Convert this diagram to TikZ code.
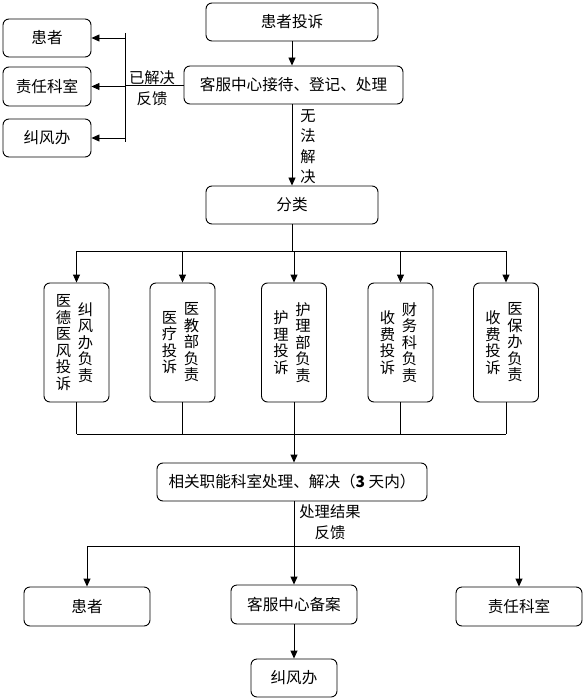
\documentclass[tikz,border=0pt]{standalone}
\usepackage{fontspec}
\newfontfamily\cjk{Noto Sans CJK SC}
\usetikzlibrary{arrows.meta}
\begin{document}
\begin{tikzpicture}[x=1pt,y=-1pt]
\tikzset{
  box/.style={draw, rounded corners=6pt, line width=0.9pt, inner sep=0pt, align=center,
    font=\cjk\fontsize{15.6}{17}\selectfont},
  vtx/.style={inner sep=0pt, align=center, font=\cjk\fontsize{15.3}{16.5}\selectfont},
  lbl/.style={inner sep=0pt, align=center, font=\cjk\fontsize{15.3}{21}\selectfont},
  arr/.style={-{Triangle[length=8pt,width=7pt]}, line width=0.9pt},
  ln/.style={line width=0.9pt}
}
\useasboundingbox (0,0) rectangle (584,700);
% top part
\node[box, minimum width=172pt, minimum height=38pt] (top) at (292,22) {患者投诉};
\node[box, minimum width=219pt, minimum height=38pt] (kf) at (293.5,85) {客服中心接待、登记、处理};
\node[box, minimum width=88pt, minimum height=38pt] (l1) at (47,38) {患者};
\node[box, minimum width=88pt, minimum height=39pt] (l2) at (47,86.5) {责任科室};
\node[box, minimum width=88pt, minimum height=38pt] (l3) at (47,138) {纠风办};
\node[box, minimum width=172pt, minimum height=38pt] (fl) at (292,205) {分类};
\coordinate (jt) at (125,33);
\coordinate (jb) at (125,142);
\draw[arr] (top.south) -- (top.south |- kf.north);
\draw[ln] (kf.west) -- (kf.west -| jt);
\draw[ln] (jt) -- (jb);
\draw[arr] (l1.east -| jt) -- (l1.east);
\draw[arr] (l2.east -| jt) -- (l2.east);
\draw[arr] (l3.east -| jt) -- (l3.east);
\node[lbl] (yjj) at (152,88) {已解决\\反馈};
\draw[arr] (kf.south -| top.south) -- (fl.north -| top.south);
\node[inner sep=0pt, align=center, font=\cjk\fontsize{15.3}{20.5}\selectfont] (wfjj) at (308,146.5) {无\\法\\解\\决};
% five category boxes
\foreach \i/\x in {1/76.5,2/182.5,3/294,4/400.5,5/506}{
  \node[box, minimum width=65pt, minimum height=119pt] (b\i) at (\x,342.5) {};
}
\node[vtx] (b1l) at ([xshift=-13pt]b1.center) {医\\德\\医\\风\\投\\诉};
\node[vtx] (b1r) at ([xshift=9pt]b1.center) {纠\\风\\办\\负\\责};
\node[vtx] (b2l) at ([xshift=-13pt]b2.center) {医\\疗\\投\\诉};
\node[vtx] (b2r) at ([xshift=9pt]b2.center) {医\\教\\部\\负\\责};
\node[vtx] (b3l) at ([xshift=-13pt]b3.center) {护\\理\\投\\诉};
\node[vtx] (b3r) at ([xshift=9pt]b3.center) {护\\理\\部\\负\\责};
\node[vtx] (b4l) at ([xshift=-13pt]b4.center) {收\\费\\投\\诉};
\node[vtx] (b4r) at ([xshift=9pt]b4.center) {财\\务\\科\\负\\责};
\node[vtx] (b5l) at ([xshift=-13pt]b5.center) {收\\费\\投\\诉};
\node[vtx] (b5r) at ([xshift=9pt]b5.center) {医\\保\\办\\负\\责};
\coordinate (bh) at (0,251);
\draw[ln] (fl.south) -- (fl.south |- bh);
\draw[ln] (b1.north |- bh) -- (b5.north |- bh);
\foreach \i in {1,...,5}{ \draw[arr] (b\i.north |- bh) -- (b\i.north); }
\coordinate (bm) at (0,434);
\foreach \i in {1,...,5}{ \draw[ln] (b\i.south) -- (b\i.south |- bm); }
\draw[ln] (b1.south |- bm) -- (b5.south |- bm);
% lower part
\node[box, minimum width=270pt, minimum height=38pt] (xg) at (292,482) {相关职能科室处理、解决（\textbf{3} 天内）};
\draw[arr] (b3.south |- bm) -- (b3.south |- xg.north);
\node[box, minimum width=126pt, minimum height=39pt] (r1) at (87,606.5) {患者};
\node[box, minimum width=126pt, minimum height=39pt] (r2) at (294,604.5) {客服中心备案};
\node[box, minimum width=126pt, minimum height=39pt] (r3) at (519,606.5) {责任科室};
\node[box, minimum width=86pt, minimum height=38pt] (r4) at (294,678) {纠风办};
\coordinate (bl) at (0,546);
\draw[arr] (xg.south -| r2.north) -- (r2.north);
\draw[ln] (r1.north |- bl) -- (r3.north |- bl);
\draw[arr] (r1.north |- bl) -- (r1.north);
\draw[arr] (r3.north |- bl) -- (r3.north);
\draw[arr] (r2.south) -- (r4.north);
\node[lbl] (cljg) at (330,522.5) {处理结果\\反馈};
\end{tikzpicture}
\end{document}
